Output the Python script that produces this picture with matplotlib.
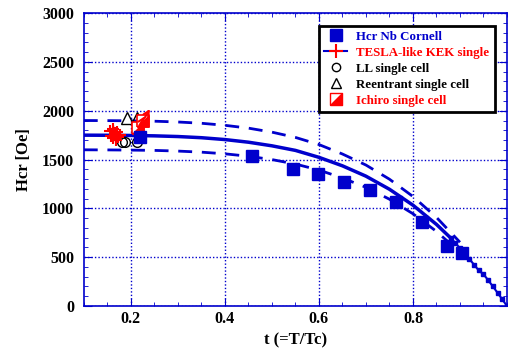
import numpy as np
import matplotlib
matplotlib.use("Agg")
import matplotlib.pyplot as plt
from matplotlib.lines import Line2D
from matplotlib.path import Path
from matplotlib.legend_handler import HandlerTuple

plt.rcParams["font.family"] = "Liberation Serif"
plt.rcParams["font.weight"] = "bold"

# Hcr Nb Cornell data
cornell_t = [0.219, 0.457, 0.545, 0.598, 0.653, 0.709, 0.764, 0.819, 0.872, 0.904]
cornell_h = [1730, 1540, 1400, 1355, 1270, 1190, 1065, 860, 615, 545]

# TESLA-like KEK single
kek_t = [0.155, 0.158, 0.161, 0.163, 0.166, 0.168, 0.171, 0.173, 0.176]
kek_h = [1790, 1740, 1810, 1720, 1770, 1700, 1780, 1730, 1750]
kek_err = [40, 40, 40, 40, 40, 40, 40, 40, 40]

# LL single cell
ll_t = [0.181, 0.187, 0.213]
ll_h = [1680, 1680, 1680]

# Reentrant single cell
re_t = [0.191, 0.213]
re_h = [1925, 1925]

# Ichiro single cell
ich_t = [0.215, 0.226]
ich_h = [1825, 1900]

# fit curves
fit_t = [0.10, 0.15, 0.20, 0.25, 0.30, 0.35, 0.40, 0.45, 0.50, 0.55, 0.60,
         0.65, 0.70, 0.75, 0.80, 0.85, 0.88]
fit_h = [1750, 1749, 1747, 1743, 1736, 1724, 1705, 1678, 1641, 1594, 1523,
         1436, 1330, 1196, 1033, 836, 698]
tail_t = [0.88, 0.89, 0.90, 0.91, 0.92, 0.93, 0.94, 0.95, 0.96, 0.97, 0.98, 0.99, 1.00]
tail_h = [698, 646, 592, 538, 482, 423, 364, 325, 265, 200, 135, 68, 0]
up_t = [0.10, 0.15, 0.20, 0.25, 0.30, 0.35, 0.40, 0.45, 0.50, 0.55, 0.60,
        0.65, 0.70, 0.75, 0.80, 0.85, 0.90]
up_h = [1900, 1899, 1897, 1893, 1885, 1872, 1851, 1822, 1781, 1727, 1654,
        1557, 1444, 1299, 1122, 908, 653]
lo_t = [0.10, 0.15, 0.20, 0.25, 0.30, 0.35, 0.40, 0.45, 0.50, 0.55, 0.60,
        0.65, 0.70, 0.75, 0.80, 0.85, 0.90]
lo_h = [1600, 1599, 1597, 1594, 1587, 1576, 1559, 1534, 1500, 1454, 1393,
        1311, 1216, 1094, 945, 764, 550]

blue = "#0000cc"

fig = plt.figure(figsize=(5.08, 3.55), dpi=100)
ax = fig.add_axes([0.165, 0.138, 0.833, 0.825])

# fit lines
ax.plot(fit_t, fit_h, color=blue, lw=2.5)
ax.plot(tail_t, tail_h, color=blue, lw=1.5, marker="s", ms=3)
ax.plot(up_t, up_h, color=blue, lw=2, dashes=(5, 3.5))
ax.plot(lo_t, lo_h, color=blue, lw=2, dashes=(5, 3.5))

# data
ax.errorbar(kek_t, kek_h, yerr=kek_err, fmt="+", color="red", ms=9, mew=1.5, elinewidth=1)
ax.plot(ll_t, ll_h, "o", mfc="none", mec="black", ms=7, mew=1)
ax.plot(re_t, re_h, "^", mfc="none", mec="black", ms=8, mew=1)
sq = Path([(-1, -1), (1, -1), (1, 1), (-1, 1), (-1, -1)])
tri = Path([(-1, -1), (1, -1), (1, 1), (-1, -1)])
for t, h in zip(ich_t, ich_h):
    ax.annotate("", xy=(t, h), xytext=(6, 10), textcoords="offset points",
                arrowprops=dict(arrowstyle="<-", color="red", lw=1.5))
ax.plot(ich_t, ich_h, marker=sq, ls="none", mfc="white", mec="red", ms=8, mew=1.2)
ax.plot(ich_t, ich_h, marker=tri, ls="none", color="red", ms=8)
ax.plot(cornell_t, cornell_h, "s", color=blue, ms=9)

ax.set_xlim(0.1, 1.0)
ax.set_ylim(0, 3000)
ax.set_xticks([0.2, 0.4, 0.6, 0.8])
ax.set_xticklabels(["0.2", "0.4", "0.6", "0.8"])
ax.set_yticks(range(0, 3001, 500))
ax.set_xticks(np.arange(0.1, 1.0001, 0.05), minor=True)
ax.set_yticks(range(0, 3001, 100), minor=True)
ax.tick_params(which="both", direction="in", color=blue, top=True, right=True,
               labelsize=11.5)
ax.tick_params(which="major", length=6)
ax.tick_params(which="minor", length=3)
ax.tick_params(axis="y", pad=7)
for s in ax.spines.values():
    s.set_color(blue)
    s.set_linewidth(1.2)
ax.grid(True, which="major", color=blue, ls=(0, (1, 1.5)), lw=1)

ax.set_xlabel("t (=T/Tc)", fontsize=12, fontweight="bold")
ax.set_ylabel("Hcr [Oe]", fontsize=12, fontweight="bold", labelpad=7)

handles = [
    Line2D([], [], marker="s", color=blue, ls="none", ms=9),
    Line2D([], [], marker="+", color=blue, mec="red", ms=10, mew=1.5, lw=1.5),
    Line2D([], [], marker="o", color="black", mfc="none", ls="none", ms=6),
    Line2D([], [], marker="^", color="black", mfc="none", ls="none", ms=7),
    (Line2D([], [], marker=sq, mfc="white", mec="red", ls="none", ms=8),
     Line2D([], [], marker=tri, color="red", ls="none", ms=8)),
]
labels = ["Hcr Nb Cornell", "TESLA-like KEK single", "LL single cell",
          "Reentrant single cell", "Ichiro single cell"]
leg = ax.legend(handles, labels, loc="upper right", bbox_to_anchor=(0.98, 0.97),
                fontsize=9.3, handlelength=1.8, handletextpad=0.7,
                labelspacing=0.3, borderpad=0.4, borderaxespad=0.3,
                fancybox=False, framealpha=1,
                handler_map={tuple: HandlerTuple(ndivide=1)})
leg.get_frame().set_edgecolor("black")
leg.get_frame().set_linewidth(2)
for txt, c in zip(leg.get_texts(), [blue, "red", "black", "black", "red"]):
    txt.set_color(c)

fig.savefig("out.png", dpi=100)
